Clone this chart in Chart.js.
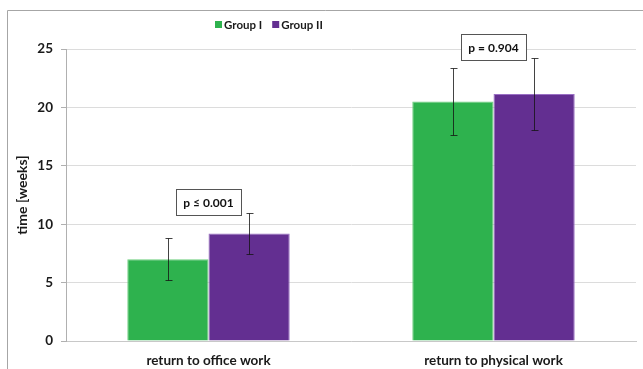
<!DOCTYPE html>
<html>
<head>
<meta charset="utf-8">
<script src="https://cdn.jsdelivr.net/npm/chart.js@4/dist/chart.umd.min.js"></script>
<style>
  html, body { margin: 0; padding: 0; background: #fff; }
  #wrap { width: 643px; height: 369px; }
</style>
</head>
<body>
<div id="wrap"><canvas id="timeChart" width="643" height="369"></canvas></div>
<script>
const categories = ["return to office work", "return to physical work"];
const groupOne = [7.0, 20.5];
const groupTwo = [9.2, 21.15];
const groupOneSd = [1.8, 2.9];
const groupTwoSd = [1.75, 3.1];
const pLabels = ["p \u2264 0.001", "p = 0.904"];
const yTicks = [0, 5, 10, 15, 20, 25];

const FONT = "Lato, 'Open Sans', sans-serif";

/* error bars on top of each bar */
const errorBars = {
    id: "errorBars",
    afterDatasetsDraw(chart) {
        const ctx = chart.ctx;
        const y = chart.scales.y;
        const sds = [groupOneSd, groupTwoSd];
        ctx.save();
        ctx.strokeStyle = "rgba(20,20,20,0.8)";
        ctx.lineWidth = 1;
        chart.data.datasets.forEach((ds, di) => {
            chart.getDatasetMeta(di).data.forEach((bar, i) => {
                const x = Math.round(bar.x) + 0.5;
                const top = Math.round(y.getPixelForValue(ds.data[i] + sds[di][i])) + 0.5;
                const bot = Math.round(y.getPixelForValue(ds.data[i] - sds[di][i])) + 0.5;
                ctx.beginPath();
                ctx.moveTo(x, top); ctx.lineTo(x, bot);
                ctx.moveTo(x - 3, top); ctx.lineTo(x + 4, top);
                ctx.moveTo(x - 3, bot); ctx.lineTo(x + 4, bot);
                ctx.stroke();
            });
        });
        ctx.restore();
    }
};

/* p-value boxes above each group, outer frame and legend */
const decorations = {
    id: "decorations",
    beforeDraw(chart) {
        const ctx = chart.ctx;
        ctx.save();
        ctx.strokeStyle = "#a6a6a6";
        ctx.lineWidth = 1;
        ctx.beginPath();
        ctx.moveTo(7.5, chart.height);
        ctx.lineTo(7.5, 10.5);
        ctx.lineTo(chart.width, 10.5);
        ctx.stroke();
        ctx.restore();
    },
    afterDraw(chart) {
        const ctx = chart.ctx;
        const y = chart.scales.y;
        const x = chart.scales.x;
        ctx.save();
        ctx.font = "bold 12px " + FONT;
        ctx.textBaseline = "middle";

        // p-value boxes
        categories.forEach((c, i) => {
            const topVal = Math.max(groupOne[i] + groupOneSd[i], groupTwo[i] + groupTwoSd[i]);
            const cx = x.getPixelForValue(i);
            const cy = y.getPixelForValue(topVal) - 11;
            const w = 65, h = 26;
            const bx = Math.round(cx - w / 2) + 0.5, by = Math.round(cy - h / 2) + 0.5;
            ctx.fillStyle = "#fff";
            ctx.fillRect(bx, by, w, h);
            ctx.strokeStyle = "#555";
            ctx.strokeRect(bx, by, w, h);
            ctx.fillStyle = "#111";
            ctx.textAlign = "center";
            ctx.fillText(pLabels[i], cx, cy + 1);
        });

        // legend
        ctx.font = "bold 11.5px " + FONT;
        let lx = 215;
        const ly = 25;
        ctx.textAlign = "left";
        chart.data.datasets.forEach(ds => {
            ctx.fillStyle = ds.backgroundColor;
            ctx.fillRect(lx, ly - 4, 7, 7);
            ctx.fillStyle = "#1a1a1a";
            ctx.fillText(ds.label, lx + 9, ly);
            lx += 9 + ctx.measureText(ds.label).width + 10;
        });
        ctx.restore();
    }
};

const ctx = document.getElementById("timeChart").getContext("2d");
new Chart(ctx, {
    type: "bar",
    data: {
        labels: categories,
        datasets: [
            {
                label: "Group I",
                data: groupOne,
                backgroundColor: "#2eb24e",
                borderColor: "#6fcf7f",
                borderWidth: 1
            },
            {
                label: "Group II",
                data: groupTwo,
                backgroundColor: "#632f91",
                borderColor: "#9a6fc4",
                borderWidth: 1
            }
        ]
    },
    options: {
        responsive: false,
        animation: false,
        devicePixelRatio: 1,
        layout: { padding: { top: 49, right: 7, left: 8, bottom: 0 } },
        datasets: {
            bar: { categoryPercentage: 0.57, barPercentage: 1.0 }
        },
        plugins: {
            legend: { display: false },
            tooltip: { enabled: false }
        },
        scales: {
            x: {
                grid: { display: false, drawTicks: false },
                border: { color: "#c8c8c8" },
                ticks: {
                    color: "#1a1a1a",
                    padding: 12,
                    font: { family: FONT, size: 13.5, weight: "bold" }
                },
                afterFit(scale) { scale.height = 28; }
            },
            y: {
                min: 0,
                max: 25,
                afterBuildTicks(scale) {
                    scale.ticks = yTicks.map(v => ({ value: v }));
                },
                grid: {
                    color: "#dcdcdc",
                    tickColor: "#b0b0b0",
                    tickLength: 5
                },
                border: { color: "#b0b0b0" },
                ticks: {
                    color: "#1a1a1a",
                    padding: 8,
                    font: { family: FONT, size: 13.5, weight: "bold" }
                },
                title: {
                    display: true,
                    text: "time [weeks]",
                    color: "#1a1a1a",
                    padding: { top: 6, bottom: 0 },
                    font: { family: FONT, size: 14, weight: "bold" }
                },
                afterFit(scale) { scale.width = 66 - 8; }
            }
        }
    },
    plugins: [errorBars, decorations]
});
</script>
</body>
</html>
